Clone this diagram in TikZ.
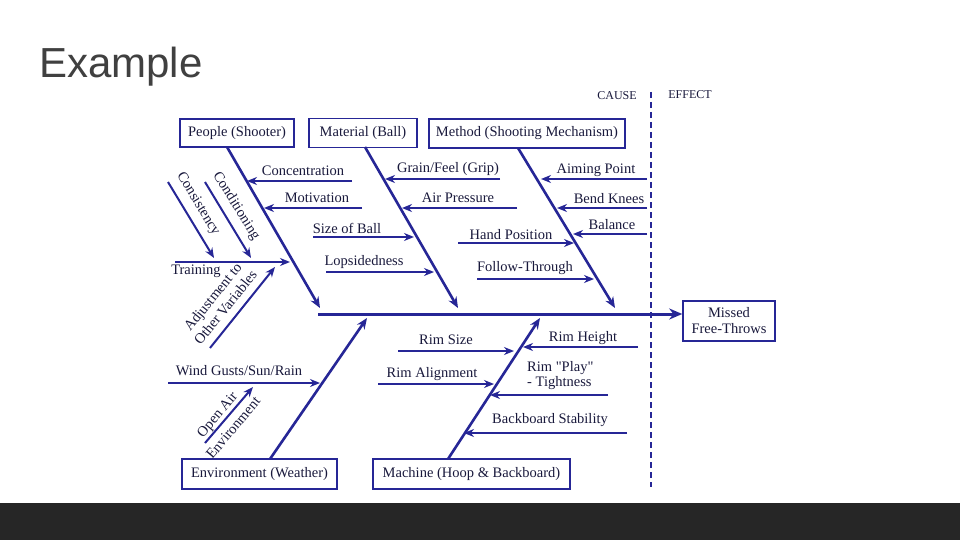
\documentclass[tikz,border=0pt]{standalone}
\usepackage{fontspec}
\setmainfont{Liberation Serif}[Ligatures=TeXOff]
\newfontfamily\titlefont{Liberation Sans}
\usetikzlibrary{arrows.meta}
\definecolor{bone}{RGB}{38,38,150}
\definecolor{txt}{RGB}{25,25,60}
\definecolor{ttl}{RGB}{64,64,64}
\definecolor{barc}{RGB}{38,38,38}
\begin{document}
\begin{tikzpicture}[x=1pt,y=-1pt,
 box/.style={draw=bone,line width=1.6pt,inner sep=0pt,text=txt,font=\fontsize{14.5}{16}\selectfont},
 lbl/.style={text=txt,font=\fontsize{14.5}{15}\selectfont,inner sep=0pt},
 small/.style={text=txt,font=\fontsize{12}{14}\selectfont,inner sep=0pt},
 bonel/.style={draw=bone,line width=2.6pt,-{Stealth[length=11pt,width=9pt]}},
 subl/.style={draw=bone,line width=2pt,-{Stealth[length=10pt,width=8pt]}},
]
\useasboundingbox (0,0) rectangle (960,540);
\fill[white] (0,0) rectangle (960,540);
\fill[barc] (0,503) rectangle (960,540);
\node[anchor=base west,inner sep=0pt,text=ttl,font=\titlefont\fontsize{42}{42}\selectfont] (title) at (39,78) {Example};

% boxes
\node[box,minimum width=114pt,minimum height=28pt] (people) at (237,133) {People (Shooter)};
\node[box,minimum width=108pt,minimum height=29pt] (material) at (363,133) {Material (Ball)};
\node[box,minimum width=196pt,minimum height=29pt] (method) at (527,133.5) {Method (Shooting Mechanism)};
\node[box,minimum width=155pt,minimum height=30pt] (env) at (259.5,474) {Environment (Weather)};
\node[box,minimum width=197pt,minimum height=30pt] (machine) at (471.5,474) {Machine (Hoop \& Backboard)};
\node[box,minimum width=92pt,minimum height=40pt,align=center,font=\fontsize{14.5}{16}\selectfont] (missed) at (729,321) {Missed\\Free-Throws};

% cause/effect divider
\coordinate (dT) at (651,92);
\coordinate (dB) at (651,487);
\draw[bone,line width=1.5pt,dash pattern=on 6pt off 4pt] (dT) -- (dB);
\node[small] (cause) at (617,96) {CAUSE};
\node[small] (effect) at (690,95) {EFFECT};

% spine
\coordinate (spL) at (318,314);
\draw[draw=bone,line width=3pt,-{Stealth[length=13pt,width=11pt]}] (spL) -- (missed.west |- spL);

% main bones
\coordinate (pS) at (227,147);  \coordinate (pT) at (320,308);
\coordinate (mS) at (365,147);  \coordinate (mT) at (458,308);
\coordinate (meS) at (518,148); \coordinate (meT) at (615,308);
\coordinate (eS) at (270,459);  \coordinate (eT) at (367,318);
\coordinate (maS) at (448,459); \coordinate (maT) at (540,318);
\draw[bonel] (pS) -- (pT);
\draw[bonel] (mS) -- (mT);
\draw[bonel] (meS) -- (meT);
\draw[bonel] (eS) -- (eT);
\draw[bonel] (maS) -- (maT);

% People sub-causes
\coordinate (c1a) at (352,181); \coordinate (c1b) at (247,181);
\draw[subl] (c1a) -- (c1b);
\node[lbl] (conc) at (303,171) {Concentration};
\coordinate (c2a) at (362,208); \coordinate (c2b) at (264,208);
\draw[subl] (c2a) -- (c2b);
\node[lbl] (motiv) at (317,198) {Motivation};
\coordinate (c3a) at (175,262); \coordinate (c3b) at (290,262);
\draw[subl] (c3a) -- (c3b);
\node[lbl] (train) at (196,271) {Training};
\coordinate (c4a) at (168,182); \coordinate (c4b) at (214,258);
\draw[subl] (c4a) -- (c4b);
\node[lbl,rotate=-59] (consist) at (198,204) {Consistency};
\coordinate (c5a) at (205,182); \coordinate (c5b) at (251,258);
\draw[subl] (c5a) -- (c5b);
\node[lbl,rotate=-58] (cond) at (236,206) {Conditioning};
\coordinate (c6a) at (210,348); \coordinate (c6b) at (275,267);
\draw[subl] (c6a) -- (c6b);
\node[lbl,rotate=51,align=center,font=\fontsize{14.5}{16.5}\selectfont] (adjust) at (219,302) {Adjustment to\\Other Variables};

% Material sub-causes
\coordinate (m1a) at (500,179); \coordinate (m1b) at (385,179);
\draw[subl] (m1a) -- (m1b);
\node[lbl] (grain) at (448,169) {Grain/Feel (Grip)};
\coordinate (m2a) at (517,208); \coordinate (m2b) at (402,208);
\draw[subl] (m2a) -- (m2b);
\node[lbl] (air) at (458,198) {Air Pressure};
\coordinate (m3a) at (313,237); \coordinate (m3b) at (414,237);
\draw[subl] (m3a) -- (m3b);
\node[lbl] (size) at (347,228) {Size of Ball};
\coordinate (m4a) at (326,272); \coordinate (m4b) at (434,272);
\draw[subl] (m4a) -- (m4b);
\node[lbl] (lops) at (364,262) {Lopsidedness};

% Method sub-causes
\coordinate (t1a) at (647,179); \coordinate (t1b) at (541,179);
\draw[subl] (t1a) -- (t1b);
\node[lbl] (aim) at (596,170) {Aiming Point};
\coordinate (t2a) at (647,208); \coordinate (t2b) at (557,208);
\draw[subl] (t2a) -- (t2b);
\node[lbl] (bend) at (609,199) {Bend Knees};
\coordinate (t3a) at (647,234); \coordinate (t3b) at (573,234);
\draw[subl] (t3a) -- (t3b);
\node[lbl] (balance) at (612,225) {Balance};
\coordinate (t4a) at (458,243); \coordinate (t4b) at (574,243);
\draw[subl] (t4a) -- (t4b);
\node[lbl] (hand) at (511,235) {Hand Position};
\coordinate (t5a) at (477,279); \coordinate (t5b) at (594,279);
\draw[subl] (t5a) -- (t5b);
\node[lbl] (follow) at (525,268) {Follow-Through};

% Environment sub-causes
\coordinate (e1a) at (168,383); \coordinate (e1b) at (320,383);
\draw[subl] (e1a) -- (e1b);
\node[lbl] (wind) at (239,371) {Wind Gusts/Sun/Rain};
\coordinate (e2a) at (205,443); \coordinate (e2b) at (253,387);
\draw[subl] (e2a) -- (e2b);
\node[lbl,rotate=50,align=center,font=\fontsize{14.5}{21}\selectfont] (open) at (225,421) {Open Air\\Environment};

% Machine sub-causes
\coordinate (h1a) at (398,351); \coordinate (h1b) at (514,351);
\draw[subl] (h1a) -- (h1b);
\node[lbl] (rimsize) at (446,340) {Rim Size};
\coordinate (h2a) at (638,347); \coordinate (h2b) at (523,347);
\draw[subl] (h2a) -- (h2b);
\node[lbl] (rimh) at (583,338) {Rim Height};
\coordinate (h3a) at (378,384); \coordinate (h3b) at (494,384);
\draw[subl] (h3a) -- (h3b);
\node[lbl] (rima) at (432,374) {Rim Alignment};
\coordinate (h4a) at (608,395); \coordinate (h4b) at (490,395);
\draw[subl] (h4a) -- (h4b);
\node[lbl,align=left,anchor=west] (play) at (527,376) {Rim "Play"\\- Tightness};
\coordinate (h5a) at (627,433); \coordinate (h5b) at (464,433);
\draw[subl] (h5a) -- (h5b);
\node[lbl] (back) at (550,420) {Backboard Stability};
\end{tikzpicture}
\end{document}
